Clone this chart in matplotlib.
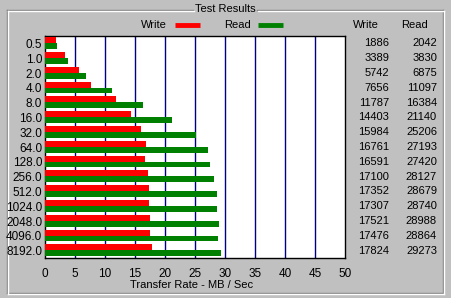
import numpy as np
import matplotlib
matplotlib.use('Agg')
import matplotlib.pyplot as plt

plt.rcParams['font.family'] = ['Liberation Sans', 'DejaVu Sans']

# Transfer sizes (KB) and measured rates (KB/s)
sizes = ['0.5', '1.0', '2.0', '4.0', '8.0', '16.0', '32.0', '64.0', '128.0',
         '256.0', '512.0', '1024.0', '2048.0', '4096.0', '8192.0']
write_kb = [1886, 3389, 5742, 7656, 11787, 14403, 15984, 16761, 16591,
            17100, 17352, 17307, 17521, 17476, 17824]
read_kb = [2042, 3830, 6875, 11097, 16384, 21140, 25206, 27193, 27420,
           28127, 28679, 28740, 28988, 28864, 29273]
x_ticks = [0, 5, 10, 15, 20, 25, 30, 35, 40, 45, 50]

W, H = 451, 298
bg = '#c0c0c0'
fs = 8
fig = plt.figure(figsize=(W / 100, H / 100), dpi=100, facecolor=bg)

# background layer in pixel coordinates
back = fig.add_axes([0, 0, 1, 1])
back.set_xlim(0, W)
back.set_ylim(H, 0)
back.axis('off')

# etched group box
for off, col in [(0, '#808080'), (1, '#ffffff')]:
    back.plot([7 + off, 7 + off], [10 + off, 293 + off], color=col, lw=1)
    back.plot([7 + off, 443 + off], [293 + off, 293 + off], color=col, lw=1)
    back.plot([443 + off, 443 + off], [10 + off, 293 + off], color=col, lw=1)
    back.plot([7 + off, 193 + off], [10 + off, 10 + off], color=col, lw=1)
    back.plot([257 + off, 443 + off], [10 + off, 10 + off], color=col, lw=1)
back.text(225, 9, 'Test Results', ha='center', va='center', fontsize=fs)

# legend
back.text(167, 25, 'Write', ha='right', va='center', fontsize=fs)
back.plot([175, 200], [25, 25], color='#ff0000', lw=3.5, solid_capstyle='butt')
back.text(251, 25, 'Read', ha='right', va='center', fontsize=fs)
back.plot([258, 283], [25, 25], color='#008000', lw=3.5, solid_capstyle='butt')

# column headers on the right
back.text(366, 25, 'Write', ha='center', va='center', fontsize=fs)
back.text(415, 25, 'Read', ha='center', va='center', fontsize=fs)

# main plot area
ax = fig.add_axes([45 / W, 1 - 258 / H, 300 / W, 222 / H])
ax.set_facecolor('white')
y = np.arange(len(sizes))
w_mb = np.array(write_kb) / 1000
r_mb = np.array(read_kb) / 1000
ax.barh(y - 0.22, w_mb, height=0.4, color='#ff0000', zorder=3)
ax.barh(y + 0.18, r_mb, height=0.4, color='#008000', zorder=3)
ax.set_xlim(0, 50)
ax.set_ylim(len(sizes) - 0.5, -0.5)
for t in x_ticks[1:-1]:
    ax.axvline(t, color='#000080', lw=1, zorder=1)
ax.set_xticks(x_ticks)
ax.set_xticklabels([str(t) for t in x_ticks], fontsize=fs + 0.5)
ax.set_yticks(y)
ax.set_yticklabels(sizes, fontsize=fs + 0.5)
ax.tick_params(length=0)
ax.tick_params(axis='y', pad=2)
ax.tick_params(axis='x', pad=7)
for s in ax.spines.values():
    s.set_color('black')
    s.set_linewidth(1)
ax.set_xlabel('Transfer Rate - MB / Sec', fontsize=fs, ha='left', va='center')
ax.xaxis.set_label_coords(85 / 300, -27 / 222)

# value columns aligned with rows
for i in range(len(sizes)):
    py = 36 + (i + 0.5) * 222 / len(sizes)
    back.text(389, py, str(write_kb[i]), ha='right', va='center', fontsize=fs)
    back.text(437, py, str(read_kb[i]), ha='right', va='center', fontsize=fs)

fig.savefig('out.png', dpi=100, facecolor=bg)
